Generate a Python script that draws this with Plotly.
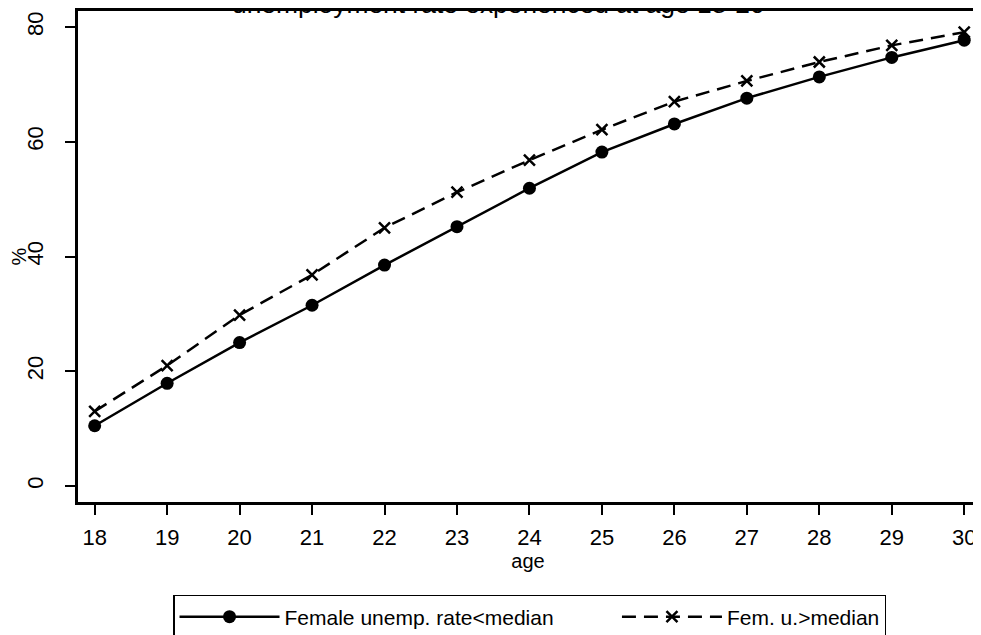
import plotly.graph_objects as go

ages = [18, 19, 20, 21, 22, 23, 24, 25, 26, 27, 28, 29, 30]
below_median = [10.5, 17.9, 25.0, 31.5, 38.5, 45.2, 51.9, 58.2, 63.1, 67.6, 71.3, 74.7, 77.7]
above_median = [13.0, 21.0, 29.8, 36.8, 45.0, 51.2, 56.8, 62.1, 67.0, 70.6, 73.9, 76.8, 79.1]
y_ticks = [0, 20, 40, 60, 80]
series_names = ["Female unemp. rate<median", "Fem. u.>median"]
title_text = "unemployment rate experienced at age 18-20"

FONT = "Arial, Liberation Sans, Helvetica, sans-serif"
NBSP = "\u00a0"

fig = go.Figure()
fig.add_trace(go.Scatter(
    x=ages, y=below_median, name=series_names[0] + NBSP * 10, mode="lines+markers",
    line=dict(color="black", width=2.5),
    marker=dict(symbol="circle", size=13, color="black"),
))
fig.add_trace(go.Scatter(
    x=ages, y=above_median, name=series_names[1], mode="lines+markers",
    line=dict(color="black", width=2.5, dash="14px,8px"),
    marker=dict(symbol="x-thin", size=11, color="black",
                line=dict(color="black", width=2.5)),
))

# The page body adds an 8px margin, so the figure is sized to the visible area.
fig.update_layout(
    width=973, height=627,
    margin=dict(l=70, r=3, t=3, b=133, autoexpand=False),
    paper_bgcolor="white", plot_bgcolor="white",
    font=dict(family=FONT, color="black", size=21),
    showlegend=True,
    legend=dict(
        orientation="h", x=0.5017, xanchor="center", y=-0.1894, yanchor="top",
        bordercolor="black", borderwidth=1.5, bgcolor="white",
        font=dict(size=21, family=FONT),
        itemwidth=100,
    ),
    xaxis=dict(
        range=[17.77, 30.19], tickmode="array", tickvals=ages,
        ticks="outside", ticklen=10, tickwidth=2, tickcolor="black",
        showline=True, linecolor="black", linewidth=2.5, mirror=True,
        showgrid=False, zeroline=False, automargin=False,
        tickfont=dict(size=22), ticklabelstandoff=4,
        title=dict(text="age", font=dict(size=20), standoff=2),
    ),
    yaxis=dict(
        range=[-2.79, 82.79], tickmode="array", tickvals=y_ticks,
        ticks="outside", ticklen=10, tickwidth=2, tickcolor="black",
        showline=True, linecolor="black", linewidth=2.5, mirror=True,
        showgrid=False, zeroline=False, tickangle=-90, automargin=False,
        tickfont=dict(size=22), ticklabelstandoff=13,
        title=dict(text="%", font=dict(size=20), standoff=8),
    ),
    annotations=[dict(
        text=title_text, xref="paper", yref="paper", x=0.4672, y=1,
        xanchor="center", yanchor="middle", yshift=7, showarrow=False,
        font=dict(size=26.4, family=FONT, color="black"),
    )],
)

fig.write_html("out.html")
